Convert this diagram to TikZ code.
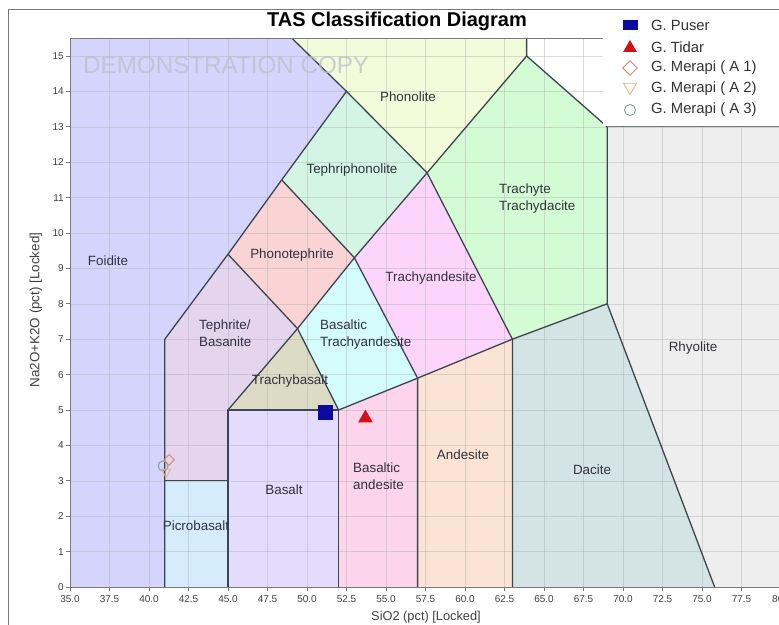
\documentclass[tikz,border=0pt]{standalone}
\usepackage{fontspec}
\setmainfont{Liberation Sans}
\usetikzlibrary{shapes.geometric}
\definecolor{cFoid}{RGB}{212,212,252}
\definecolor{cPhon}{RGB}{242,252,218}
\definecolor{cTeph}{RGB}{212,244,228}
\definecolor{cPhte}{RGB}{250,212,212}
\definecolor{cTeba}{RGB}{228,212,236}
\definecolor{cTran}{RGB}{252,212,252}
\definecolor{cBtra}{RGB}{212,252,252}
\definecolor{cTrba}{RGB}{220,220,196}
\definecolor{cTrac}{RGB}{212,252,212}
\definecolor{cBasa}{RGB}{228,220,252}
\definecolor{cPicr}{RGB}{212,236,252}
\definecolor{cBand}{RGB}{252,212,236}
\definecolor{cAnde}{RGB}{252,228,212}
\definecolor{cDaci}{RGB}{212,228,228}
\definecolor{cRhyo}{RGB}{238,238,238}
\definecolor{cLine}{RGB}{60,70,80}
\definecolor{cText}{RGB}{50,50,62}
\definecolor{cAxis}{RGB}{120,120,130}
\definecolor{cPuser}{RGB}{10,10,160}
\definecolor{cTidar}{RGB}{210,16,26}
\definecolor{cMA}{RGB}{225,130,112}
\definecolor{cMB}{RGB}{225,180,140}
\definecolor{cMC}{RGB}{120,160,150}
\tikzset{
  bound/.style={draw=cLine, line width=1.3pt, line join=round},
  gridline/.style={draw=gray!60, line width=0.5pt, opacity=0.45},
  rocklabel/.style={font=\fontsize{13.4}{17}\selectfont, text=cText, inner sep=0pt},
  ticklabel/.style={font=\fontsize{10}{12}\selectfont, text=black!75, inner sep=0pt},
  legtext/.style={font=\fontsize{14.8}{18}\selectfont, text=black!80, anchor=west, inner sep=0pt},
  puser/.style={rectangle, fill=cPuser, minimum width=15pt, minimum height=15pt, inner sep=0pt},
  tidar/.style={regular polygon, regular polygon sides=3, fill=cTidar, minimum size=17pt, inner sep=0pt},
  merA/.style={diamond, draw=cMA, line width=0.9pt, minimum size=11pt, inner sep=0pt},
  merB/.style={regular polygon, regular polygon sides=3, shape border rotate=180, draw=cMB, line width=0.9pt, minimum size=11pt, inner sep=0pt},
  merC/.style={circle, draw=cMC, line width=0.9pt, minimum size=10pt, inner sep=0pt},
}
\begin{document}
\begin{tikzpicture}[x=1pt,y=1pt]
\useasboundingbox (0,0) rectangle (779,624);
\clip (0,0) rectangle (779,624);
\fill[white] (0,0) rectangle (779,624);
% outer chart frame
\draw[cAxis, line width=0.9pt] (8,-5) -- (8,615) -- (790,615);
\begin{scope}[shift={(-483pt,37pt)}, x=15.8pt, y=35.4pt]
  % fills
  \fill[cFoid] (35,0) -- (41,0) -- (41,7) -- (45,9.4) -- (48.4,11.5) -- (52.5,14) -- (49.05,15.5) -- (35,15.5) -- cycle;
  \fill[cPicr] (41,0) -- (45,0) -- (45,3) -- (41,3) -- cycle;
  \fill[cTeba] (41,3) -- (45,3) -- (45,5) -- (49.4,7.3) -- (45,9.4) -- (41,7) -- cycle;
  \fill[cBasa] (45,0) -- (52,0) -- (52,5) -- (45,5) -- cycle;
  \fill[cTrba] (45,5) -- (52,5) -- (49.4,7.3) -- cycle;
  \fill[cPhte] (45,9.4) -- (49.4,7.3) -- (53,9.3) -- (48.4,11.5) -- cycle;
  \fill[cTeph] (48.4,11.5) -- (53,9.3) -- (57.6,11.7) -- (52.5,14) -- cycle;
  \fill[cPhon] (52.5,14) -- (57.6,11.7) -- (63.9,15) -- (63.9,15.5) -- (49.05,15.5) -- cycle;
  \fill[cBand] (52,0) -- (57,0) -- (57,5.9) -- (52,5) -- cycle;
  \fill[cBtra] (52,5) -- (57,5.9) -- (53,9.3) -- (49.4,7.3) -- cycle;
  \fill[cTran] (57,5.9) -- (63,7) -- (57.6,11.7) -- (53,9.3) -- cycle;
  \fill[cAnde] (57,0) -- (63,0) -- (63,7) -- (57,5.9) -- cycle;
  \fill[cTrac] (63,7) -- (69,8) -- (69,13) -- (63.9,15) -- (57.6,11.7) -- cycle;
  \fill[cDaci] (63,0) -- (75.8,0) -- (69,8) -- (63,7) -- cycle;
  \fill[cRhyo] (75.8,0) -- (80,0) -- (80,13) -- (69,13) -- (69,8) -- cycle;
  % grid
  \foreach \gx in {37.5,40,...,77.5} \draw[gridline] (\gx,0) -- (\gx,15.5);
  \foreach \gy in {1,...,15} \draw[gridline] (35,\gy) -- (80,\gy);
  % boundaries
  \draw[bound] (41,0) -- (41,7) -- (45,9.4) -- (48.4,11.5) -- (52.5,14) -- (49.05,15.5);
  \draw[bound] (41,3) -- (45,3);
  \draw[bound] (45,0) -- (45,5) -- (52,5) -- (52,0);
  \draw[bound] (45,5) -- (49.4,7.3) -- (45,9.4);
  \draw[bound] (49.4,7.3) -- (53,9.3) -- (48.4,11.5);
  \draw[bound] (49.4,7.3) -- (52,5) -- (57,5.9) -- (63,7) -- (69,8) -- (75.8,0);
  \draw[bound] (57,0) -- (57,5.9) -- (53,9.3) -- (57.6,11.7) -- (52.5,14);
  \draw[bound] (63,0) -- (63,7) -- (57.6,11.7) -- (63.9,15) -- (63.9,15.5);
  \draw[bound] (69,8) -- (69,13) -- (63.9,15);
  \draw[cAxis, line width=0.8pt] (69,13) -- (80,13);
  % axes
  \draw[cAxis, line width=0.9pt] (35,15.5) -- (35,0) -- (80,0);
  \draw[cAxis, line width=0.8pt] (35,15.5) -- (80,15.5);
  \foreach \ty in {0,...,15} {
    \draw[cAxis, line width=0.6pt] (35,\ty) -- ++(-4pt,0);
    \node[ticklabel, anchor=east] (ty\ty) at ([xshift=-6pt]35,\ty) {\ty};
  }
  \foreach \tx/\tt in {35/35.0,37.5/37.5,40/40.0,42.5/42.5,45/45.0,47.5/47.5,50/50.0,52.5/52.5,55/55.0,57.5/57.5,60/60.0,62.5/62.5,65/65.0,67.5/67.5,70/70.0,72.5/72.5,75/75.0,77.5/77.5} {
    \draw[cAxis, line width=0.6pt] (\tx,0) -- ++(0,-4pt);
    \node[ticklabel, anchor=north] (tx\tx) at ([yshift=-8pt]\tx,0) {\tt};
  }
  \node[ticklabel, anchor=north west] (tx80) at ([yshift=-8pt, xshift=-9pt]80,0) {80};
  % data points
  \node[merC] (pA3) at (40.89,3.42) {};
  \node[merB] (pA2) at (41.08,3.25) {};
  \node[merA] (pA1) at (41.27,3.59) {};
  \node[puser] (pPuser) at (51.2,4.94) {};
  \node[tidar] (pTidar) at (53.70,4.77) {};
\end{scope}
% watermark
\node[anchor=west, inner sep=0pt, font=\fontsize{24.2}{27}\selectfont, text={rgb,255:red,190;green,190;blue,200}, opacity=0.75] (wm) at (83,559) {DEMONSTRATION COPY};
% title
\node[font=\bfseries\fontsize{20}{24}\selectfont, inner sep=0pt] (title) at (397,603) {TAS Classification Diagram};
% legend
\fill[white] (603,498) rectangle (779,613);
\node[puser, minimum width=15pt, minimum height=10pt] (lPuser) at (630,599) {};
\node[tidar, minimum size=16pt] (lTidar) at (630,576) {};
\node[merA, minimum size=15pt] (lA1) at (630,556) {};
\node[merB, minimum size=15pt] (lA2) at (630,537) {};
\node[merC, minimum size=11pt] (lA3) at (630,514) {};
\node[legtext] (tPuser) at (651,599) {G. Puser};
\node[legtext] (tTidar) at (651,577) {G. Tidar};
\node[legtext] (tA1) at (651,556) {G. Merapi ( A 1)};
\node[legtext] (tA2) at (651,535) {G. Merapi ( A 2)};
\node[legtext] (tA3) at (651,514) {G. Merapi ( A 3)};
% rock labels
\node[rocklabel] (foidite) at (108,363) {Foidite};
\node[rocklabel] (phonolite) at (408,527) {Phonolite};
\node[rocklabel] (tephriphonolite) at (352,454) {Tephriphonolite};
\node[rocklabel, anchor=west, align=left] (trachyte) at (499,425.5) {Trachyte\\Trachydacite};
\node[rocklabel] (phonotephrite) at (292,369) {Phonotephrite};
\node[rocklabel] (trachyandesite) at (431,346) {Trachyandesite};
\node[rocklabel, anchor=west, align=left] (tephrite) at (199,290.5) {Tephrite/\\Basanite};
\node[rocklabel, anchor=west, align=left] (btrachyandesite) at (320,289.5) {Basaltic\\Trachyandesite};
\node[rocklabel] (trachybasalt) at (290,243) {Trachybasalt};
\node[rocklabel] (rhyolite) at (693,276) {Rhyolite};
\node[rocklabel] (andesite) at (463,169) {Andesite};
\node[rocklabel, anchor=west, align=left] (bandesite) at (353,148) {Basaltic\\andesite};
\node[rocklabel] (basalt) at (284,134) {Basalt};
\node[rocklabel] (dacite) at (592,154) {Dacite};
\node[rocklabel] (picrobasalt) at (196,98) {Picrobasalt};
% axis titles
\node[font=\fontsize{12.8}{15}\selectfont, text=black!75, inner sep=0pt] (xtitle) at (426,7) {SiO2 (pct) [Locked]};
\node[font=\fontsize{13.4}{15}\selectfont, text=black!75, inner sep=0pt, rotate=90] (ytitle) at (36,314) {Na2O+K2O (pct) [Locked]};
\end{tikzpicture}
\end{document}
